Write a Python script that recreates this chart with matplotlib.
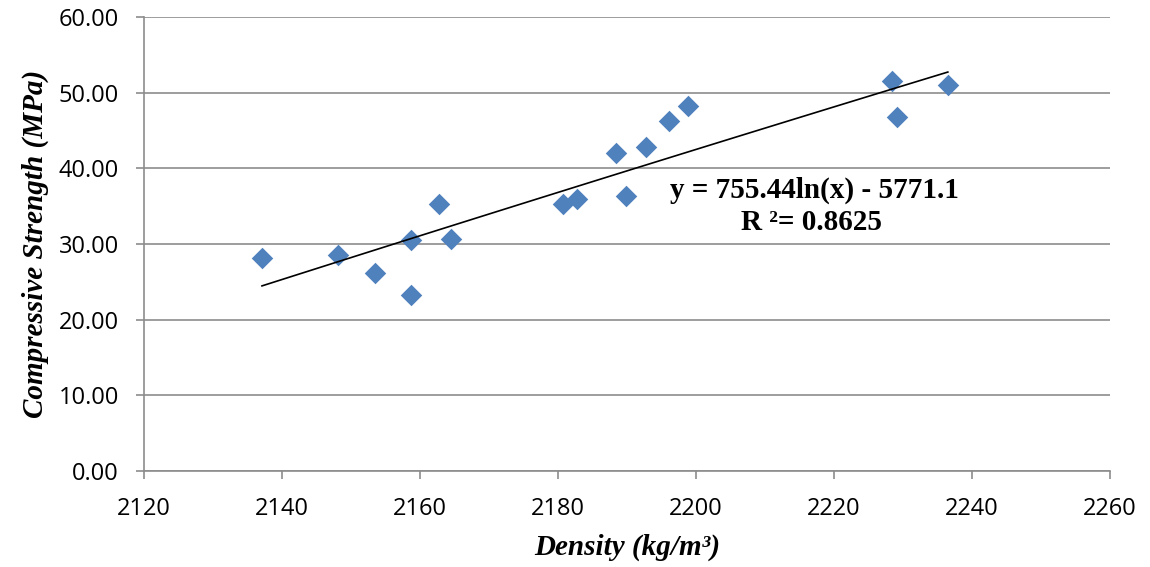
import numpy as np
import matplotlib
matplotlib.use("Agg")
import matplotlib.pyplot as plt

density = [2137.1, 2148.1, 2153.5, 2158.7, 2158.7, 2162.8, 2164.5, 2180.7, 2182.8,
           2188.4, 2189.9, 2192.8, 2196.1, 2198.8, 2228.4, 2229.1, 2236.5]
strength = [28.1, 28.5, 26.2, 30.5, 23.2, 35.3, 30.6, 35.3, 35.9,
            42.0, 36.3, 42.8, 46.2, 48.2, 51.5, 46.8, 51.0]
x_ticks = [2120, 2140, 2160, 2180, 2200, 2220, 2240, 2260]
y_ticks = [0, 10, 20, 30, 40, 50, 60]

fig = plt.figure(figsize=(11.5, 5.67), dpi=100)
ax = fig.add_axes([0.1252, 0.1693, 0.8400, 0.8007])

ax.scatter(density, strength, marker='D', s=120, color='#4F81BD', zorder=3, linewidths=0)

xs = np.array(density)
coef = np.polyfit(np.log(xs), strength, 1)
xl = np.linspace(xs.min(), xs.max(), 100)
ax.plot(xl, coef[0] * np.log(xl) + coef[1], color='black', lw=1.2, zorder=4)

ax.set_xlim(2120, 2260)
ax.set_ylim(0, 60)
ax.set_xticks(x_ticks)
ax.set_yticks(y_ticks)
ax.set_yticklabels([f"{v:.2f}" for v in y_ticks])
ax.grid(axis='y', color='#8c8c8c', lw=1.2)
ax.set_axisbelow(True)
for s in ['top', 'right']:
    ax.spines[s].set_visible(False)
for s in ['left', 'bottom']:
    ax.spines[s].set_color('#8c8c8c')
    ax.spines[s].set_linewidth(1.2)
ax.tick_params(axis='both', colors='#8c8c8c', labelcolor='black', labelsize=17, length=6, width=1.2)
ax.tick_params(axis='x', pad=13)
ax.tick_params(axis='y', pad=12)
for lab in ax.get_xticklabels() + ax.get_yticklabels():
    lab.set_family('Open Sans')

serif = 'Liberation Serif'
ax.set_xlabel('Density (kg/m³)', fontsize=21, fontfamily=serif, fontweight='bold',
              fontstyle='italic', labelpad=9)
ax.set_ylabel('Compressive Strength (MPa)', fontsize=21, fontfamily=serif, fontweight='bold',
              fontstyle='italic', labelpad=7)

ax.text(2217.1, 37.1, 'y = 755.44ln(x) - 5771.1', fontsize=21, fontfamily=serif,
        fontweight='bold', ha='center', va='center')
ax.text(2216.8, 32.9, 'R ²= 0.8625', fontsize=21, fontfamily=serif,
        fontweight='bold', ha='center', va='center')

fig.savefig('out.png', dpi=100)
